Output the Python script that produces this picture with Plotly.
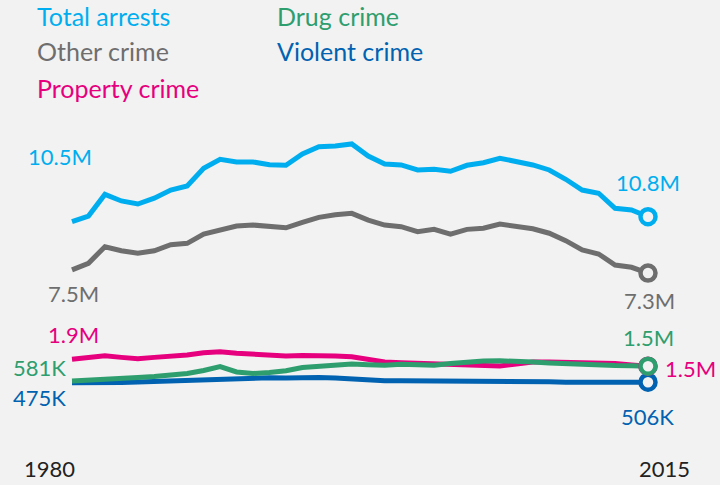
import plotly.graph_objects as go

years = list(range(1980, 2016))

total_arrests = [10.50, 10.85, 12.20, 11.79, 11.60, 11.96, 12.47, 12.72, 13.82, 14.38,
                 14.22, 14.22, 14.05, 14.01, 14.71, 15.17, 15.21, 15.34, 14.59, 14.09,
                 14.03, 13.72, 13.76, 13.64, 14.01, 14.17, 14.45, 14.23, 14.03, 13.72,
                 13.14, 12.47, 12.27, 11.33, 11.23, 10.81]
other_crime = [7.50, 7.91, 8.94, 8.69, 8.53, 8.69, 9.07, 9.15, 9.73, 10.02,
               10.23, 10.29, 10.19, 10.12, 10.46, 10.77, 10.93, 11.02, 10.60, 10.29,
               10.19, 9.88, 10.02, 9.73, 10.02, 10.09, 10.35, 10.19, 10.06, 9.78,
               9.32, 8.74, 8.49, 7.80, 7.66, 7.30]
property_crime = [1.93, 2.01, 2.15, 2.05, 1.97, 2.05, 2.10, 2.20, 2.34, 2.40,
                  2.30, 2.26, 2.15, 2.14, 2.17, 2.17, 2.14, 2.09, 1.89, 1.76,
                  1.72, 1.68, 1.67, 1.58, 1.58, 1.54, 1.51, 1.64, 1.76, 1.76,
                  1.73, 1.72, 1.72, 1.67, 1.58, 1.50]
drug_crime = [0.581, 0.62, 0.67, 0.73, 0.80, 0.86, 0.95, 1.05, 1.23, 1.47,
              1.14, 1.05, 1.11, 1.22, 1.42, 1.51, 1.58, 1.64, 1.59, 1.56,
              1.62, 1.59, 1.56, 1.67, 1.76, 1.82, 1.84, 1.82, 1.76, 1.70,
              1.65, 1.61, 1.56, 1.54, 1.53, 1.50]
violent_crime = [0.475, 0.46, 0.46, 0.48, 0.52, 0.56, 0.60, 0.64, 0.68, 0.70,
                 0.74, 0.77, 0.78, 0.76, 0.81, 0.80, 0.76, 0.70, 0.65, 0.60,
                 0.60, 0.60, 0.60, 0.60, 0.56, 0.56, 0.56, 0.55, 0.55, 0.53,
                 0.50, 0.50, 0.48, 0.47, 0.46, 0.506]

names = ["Total arrests", "Other crime", "Property crime", "Drug crime", "Violent crime"]
colors = {"Total arrests": "#00aeef", "Other crime": "#6e6e6e", "Property crime": "#e6007e",
          "Drug crime": "#2e9e6f", "Violent crime": "#0062b1"}
series = {"Total arrests": total_arrests, "Other crime": other_crime,
          "Property crime": property_crime, "Drug crime": drug_crime,
          "Violent crime": violent_crime}
start_labels = {"Total arrests": "10.5M", "Other crime": "7.5M", "Property crime": "1.9M",
                "Drug crime": "581K", "Violent crime": "475K"}
end_labels = {"Total arrests": "10.8M", "Other crime": "7.3M", "Property crime": "1.5M",
              "Drug crime": "1.5M", "Violent crime": "506K"}

BG = "#f2f2f2"
FONT = "Lato"
W, H = 720, 485
ML, MR, MT, MB = 60, 60, 100, 85
PW, PH = W - ML - MR, H - MT - MB


def px_x(px):
    return (px - ML) / PW


def px_y(py):
    return (H - MB - py) / PH


fig = go.Figure()

draw_order = ["Total arrests", "Other crime", "Violent crime", "Property crime", "Drug crime"]
for n in draw_order:
    fig.add_trace(go.Scatter(x=years, y=series[n], mode="lines",
                             line=dict(color=colors[n], width=5), hoverinfo="skip",
                             showlegend=False))
for n in draw_order:
    fig.add_trace(go.Scatter(x=[years[-1]], y=[series[n][-1]], mode="markers",
                             marker=dict(size=15, color=BG, line=dict(color=colors[n], width=4.5)),
                             hoverinfo="skip", showlegend=False))

ann = []
legend_pos = {"Total arrests": (35, 16), "Other crime": (35, 51), "Property crime": (35, 88),
              "Drug crime": (275, 16), "Violent crime": (275, 51)}
for n, (px, py) in legend_pos.items():
    ann.append(dict(x=px_x(px), y=px_y(py), xref="paper", yref="paper", text=n,
                    showarrow=False, xanchor="left", yanchor="middle",
                    font=dict(family=FONT, size=25, color=colors[n])))

start_off = {"Total arrests": ("center", -12, 65), "Other crime": ("center", 1, -24),
             "Property crime": ("center", 1, 25), "Drug crime": ("right", -4, 13),
             "Violent crime": ("right", -4, -15)}
end_off = {"Total arrests": ("center", 0, 34), "Other crime": ("center", 1, -27),
           "Property crime": ("left", 15, -2), "Drug crime": ("center", 0, 29),
           "Violent crime": ("center", -1, -34)}
for n in names:
    xa, xs, ys = start_off[n]
    ann.append(dict(x=years[0], y=series[n][0], xref="x", yref="y", text=start_labels[n],
                    showarrow=False, xanchor=xa, yanchor="middle", xshift=xs, yshift=ys,
                    font=dict(family=FONT, size=22, color=colors[n])))
    xa, xs, ys = end_off[n]
    ann.append(dict(x=years[-1], y=series[n][-1], xref="x", yref="y", text=end_labels[n],
                    showarrow=False, xanchor=xa, yanchor="middle", xshift=xs, yshift=ys,
                    font=dict(family=FONT, size=22, color=colors[n])))

ann.append(dict(x=years[0], y=px_y(468), xref="x", yref="paper", text="1980", showarrow=False,
                xanchor="right", yanchor="middle", xshift=5,
                font=dict(family=FONT, size=22, color="#222222")))
ann.append(dict(x=years[-1], y=px_y(468), xref="x", yref="paper", text="2015", showarrow=False,
                xanchor="left", yanchor="middle", xshift=-11,
                font=dict(family=FONT, size=22, color="#222222")))

fig.update_layout(
    width=W, height=H,
    margin=dict(l=ML, r=MR, t=MT, b=MB),
    paper_bgcolor=BG, plot_bgcolor=BG,
    xaxis=dict(range=[1979.271, 2015.729], visible=False, fixedrange=True),
    yaxis=dict(range=[-0.604, 18.076], visible=False, fixedrange=True),
    annotations=ann,
)
fig.write_html("out.html", config={"displayModeBar": False},
               post_script="document.body.style.margin='0';document.body.style.background='#f2f2f2';")
